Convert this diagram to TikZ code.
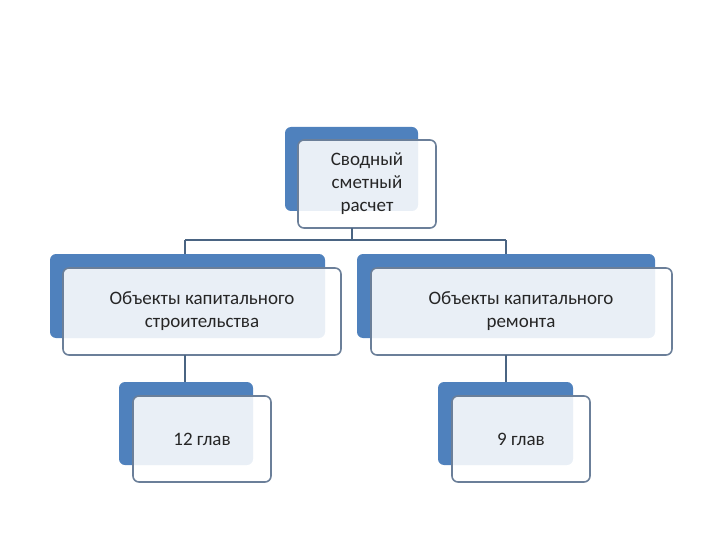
\documentclass[tikz,border=0pt]{standalone}
\usepackage{fontspec}
\setmainfont{Carlito}
\definecolor{bk}{HTML}{4F81BD}
\definecolor{ol}{HTML}{6B7F99}
\definecolor{ln}{HTML}{4A6482}
\tikzset{x=1pt,y=-1pt,
 back/.style={fill=bk,rounded corners=6pt},
 front/.style={draw=ol,line width=1.6pt,fill=white,fill opacity=0.88,text opacity=1,rounded corners=6pt},
 lbl/.style={font=\fontsize{19}{23}\selectfont,align=center,text=black!85},
 conn/.style={draw=ln,line width=1.3pt}}
\begin{document}
\begin{tikzpicture}
\useasboundingbox (0,0) rectangle (720,540);
\fill[back] (285,127) rectangle (418,211);
\draw[front] (298,140) rectangle (436,228);
\node[lbl] (t) at (367,184) {Сводный\\сметный\\расчет};
\fill[back] (50,254) rectangle (325,338);
\draw[front] (63,268) rectangle (341,355);
\node[lbl] (l) at (202,311) {Объекты капитального\\строительства};
\fill[back] (357,254) rectangle (655,338);
\draw[front] (371,268) rectangle (672,355);
\node[lbl] (r) at (521,311) {Объекты капитального\\ремонта};
\fill[back] (119,382) rectangle (253,465);
\draw[front] (133,396) rectangle (271,482);
\node[lbl] (bl) at (202,439) {12 глав};
\fill[back] (438,382) rectangle (573,465);
\draw[front] (452,396) rectangle (590,482);
\node[lbl] (br) at (521,439) {9 глав};
\coordinate (t0) at (352,228);
\coordinate (h) at (352,240);
\coordinate (hl) at (185,240);
\coordinate (hr) at (506,240);
\coordinate (l0) at (185,254);
\coordinate (r0) at (506,254);
\coordinate (l1) at (185,355);
\coordinate (r1) at (506,355);
\coordinate (bl0) at (185,382);
\coordinate (br0) at (506,382);
\draw[conn] (t0) -- (h);
\draw[conn] (hl) -- (hr);
\draw[conn] (hl) -- (l0);
\draw[conn] (hr) -- (r0);
\draw[conn] (l1) -- (bl0);
\draw[conn] (r1) -- (br0);
\end{tikzpicture}
\end{document}
